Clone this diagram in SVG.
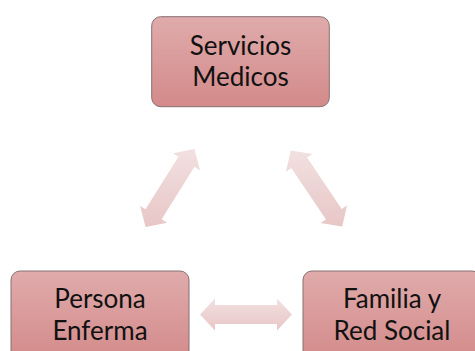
<svg xmlns="http://www.w3.org/2000/svg" width="475" height="351" viewBox="0 0 475 351">
  <defs>
    <linearGradient id="boxFill" x1="0" y1="0" x2="0" y2="1">
      <stop offset="0" stop-color="#e0abab"/>
      <stop offset="1" stop-color="#d38a8a"/>
    </linearGradient>
    <linearGradient id="arrowFill" x1="0" y1="0" x2="0" y2="1">
      <stop offset="0" stop-color="#f2e0e0"/>
      <stop offset="1" stop-color="#e8c6c6"/>
    </linearGradient>
  </defs>
  <style>
    .box { fill: url(#boxFill); stroke: #857070; stroke-width: 1; }
    .lbl { font-family: "Lato", "Liberation Sans", sans-serif; font-size: 26px; fill: #111; text-anchor: middle; }
    .arrow { fill: url(#arrowFill); stroke: none; }
  </style>
  <rect width="475" height="351" fill="#ffffff"/>
  <g id="connectors">
    <polygon class="arrow" points="145.6,227.0 140.0,205.8 145.5,209.3 178.4,156.7 172.9,153.2 194.4,149.0 200.0,170.2 194.5,166.8 161.6,219.3 167.1,222.8"/>
    <polygon class="arrow" points="290.8,150.4 312.4,153.9 307.1,157.5 341.7,208.9 347.1,205.3 342.2,226.6 320.6,223.1 326.0,219.5 291.3,168.1 285.9,171.7"/>
    <polygon class="arrow" points="200,314.5 215,298.5 215,305 277,305 277,298.5 292,314.5 277,330.5 277,324 215,324 215,330.5"/>
  </g>
  <g id="servicios-medicos">
    <rect class="box" x="151.7" y="16.7" width="177.6" height="90" rx="9" ry="9"/>
    <text class="lbl" x="240.5" y="55">Servicios</text>
    <text class="lbl" x="240.5" y="86">Medicos</text>
  </g>
  <g id="persona-enferma">
    <rect class="box" x="11" y="271" width="178" height="90" rx="9" ry="9"/>
    <text class="lbl" x="100" y="308">Persona</text>
    <text class="lbl" x="100" y="340">Enferma</text>
  </g>
  <g id="familia-red-social">
    <rect class="box" x="303" y="271" width="178" height="90" rx="9" ry="9"/>
    <text class="lbl" x="392" y="308">Familia y</text>
    <text class="lbl" x="392" y="340">Red Social</text>
  </g>
</svg>
